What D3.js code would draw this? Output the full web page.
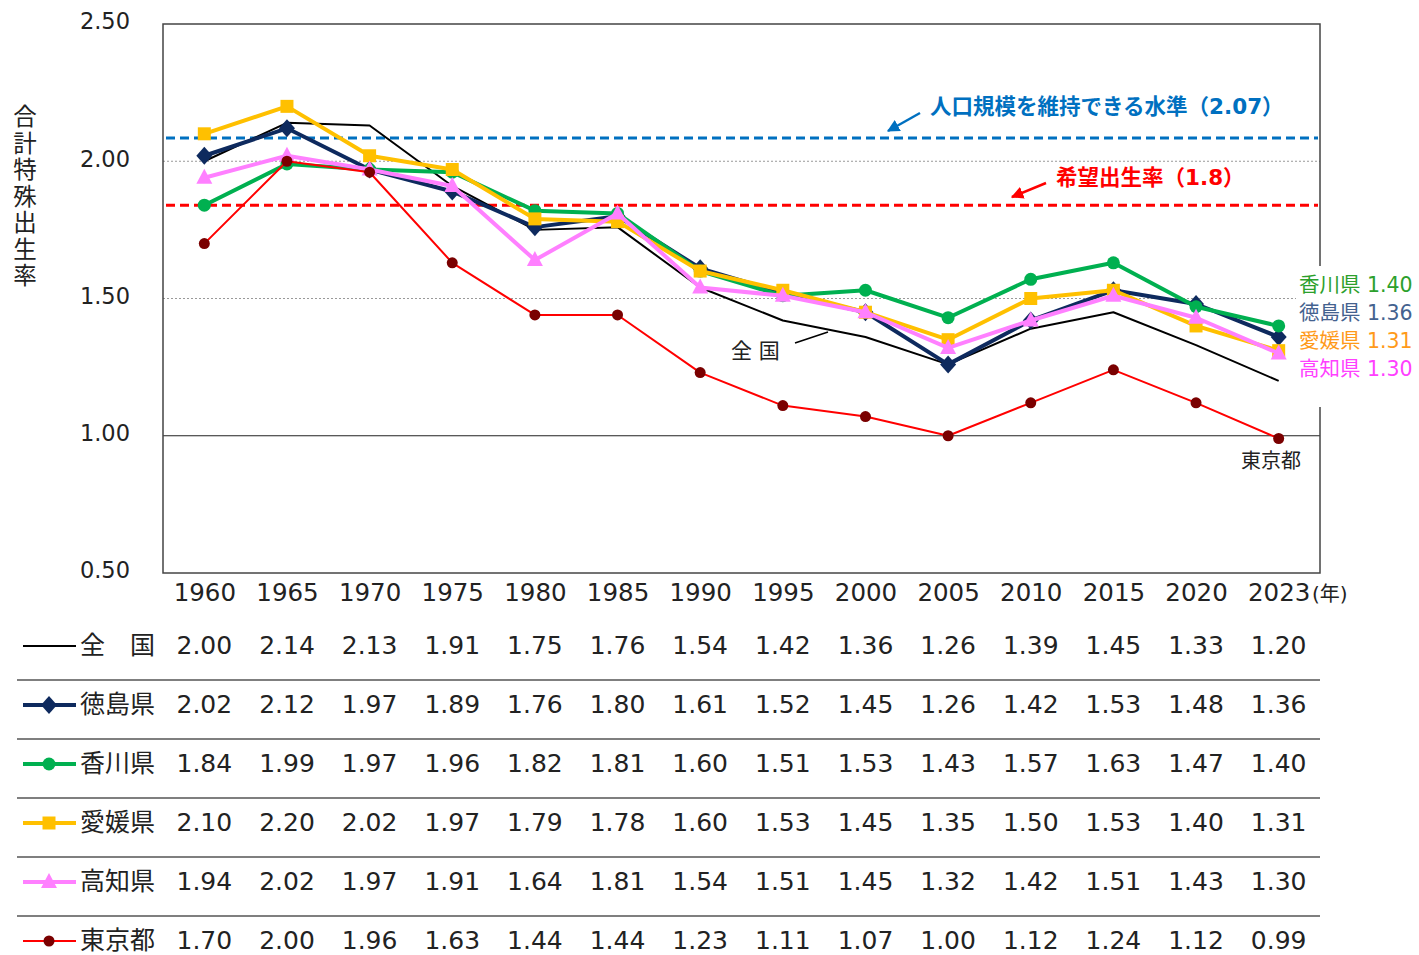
<!DOCTYPE html>
<html>
<head>
<meta charset="utf-8">
<title>合計特殊出生率の推移</title>
<script src="https://d3js.org/d3.v7.min.js"></script>
<style>
  body { margin: 0; background: #fff; }
  text { font-family: "DejaVu Sans", "Noto Sans CJK JP", sans-serif; fill: #222; }
</style>
</head>
<body>
<div id="chart"></div>
<script>
// categories
var years = ["1960","1965","1970","1975","1980","1985","1990","1995","2000","2005","2010","2015","2020","2023"];
var yTicks = [0.5, 1.0, 1.5, 2.0, 2.5];

// series values
var zenkoku   = [2.00,2.14,2.13,1.91,1.75,1.76,1.54,1.42,1.36,1.26,1.39,1.45,1.33,1.20];
var tokushima = [2.02,2.12,1.97,1.89,1.76,1.80,1.61,1.52,1.45,1.26,1.42,1.53,1.48,1.36];
var kagawa    = [1.84,1.99,1.97,1.96,1.82,1.81,1.60,1.51,1.53,1.43,1.57,1.63,1.47,1.40];
var ehime     = [2.10,2.20,2.02,1.97,1.79,1.78,1.60,1.53,1.45,1.35,1.50,1.53,1.40,1.31];
var kochi     = [1.94,2.02,1.97,1.91,1.64,1.81,1.54,1.51,1.45,1.32,1.42,1.51,1.43,1.30];
var tokyo     = [1.70,2.00,1.96,1.63,1.44,1.44,1.23,1.11,1.07,1.00,1.12,1.24,1.12,0.99];

var seriesNames = ["全　国","徳島県","香川県","愛媛県","高知県","東京都"];
var seriesValues = [zenkoku, tokushima, kagawa, ehime, kochi, tokyo];

// reference levels (label value, level as drawn in the picture)
var refLabels = ["人口規模を維持できる水準（2.07）", "希望出生率（1.8）"];
var refLevels = [2.085, 1.84];

var width = 1419, height = 955;
var margin = { left: 163, right: 1320, top: 24, bottom: 573 };

var styles = [
  { color: "#000000", w: 2,   marker: null,      mcolor: null },
  { color: "#0e2a5e", w: 4,   marker: "diamond", mcolor: "#0e2a5e" },
  { color: "#00b050", w: 4,   marker: "circle",  mcolor: "#00b050" },
  { color: "#ffc000", w: 4,   marker: "square",  mcolor: "#ffc000" },
  { color: "#ff80ff", w: 4,   marker: "triangle",mcolor: "#ff80ff" },
  { color: "#ff0000", w: 2,   marker: "circle",  mcolor: "#7a0000" }
];

var x = d3.scalePoint().domain(years).range([margin.left, margin.right]).padding(0.5);
var y = d3.scaleLinear().domain([0.5, 2.5]).range([margin.bottom, margin.top]);

var svg = d3.select("#chart").append("svg")
  .attr("width", width).attr("height", height);

// gridlines
svg.append("g").selectAll("line")
  .data([1.5, 2.0])
  .join("line")
  .attr("x1", margin.left).attr("x2", margin.right)
  .attr("y1", d => y(d)).attr("y2", d => y(d))
  .attr("stroke", "#999").attr("stroke-width", 1).attr("stroke-dasharray", "2,2");

svg.append("line")
  .attr("x1", margin.left).attr("x2", margin.right)
  .attr("y1", y(1.0)).attr("y2", y(1.0))
  .attr("stroke", "#222").attr("stroke-width", 1.2);

// frame
svg.append("rect")
  .attr("x", margin.left).attr("y", margin.top)
  .attr("width", margin.right - margin.left).attr("height", margin.bottom - margin.top)
  .attr("fill", "none").attr("stroke", "#444").attr("stroke-width", 1.5);

// y ticks
var yAxis = d3.axisLeft(y).tickValues(yTicks).tickFormat(d3.format(".2f")).tickSize(0).tickPadding(33);
var ya = svg.append("g").attr("transform", "translate(" + margin.left + ",0)").call(yAxis);
ya.select(".domain").remove();
ya.selectAll("text").attr("font-size", 22.5).attr("fill", "#222")
  .attr("font-family", "DejaVu Sans").attr("dy", "0.22em");

// y title (vertical)
var ytitle = "合計特殊出生率".split("");
svg.append("g").selectAll("text")
  .data(ytitle)
  .join("text")
  .attr("x", 25).attr("y", (d, i) => 125 + i * 26.5)
  .attr("text-anchor", "middle")
  .attr("font-size", 23.5)
  .attr("font-family", "Noto Sans CJK JP")
  .text(d => d);

// x ticks
var xAxis = d3.axisBottom(x).tickSize(0).tickPadding(11);
var xa = svg.append("g").attr("transform", "translate(0," + margin.bottom + ")").call(xAxis);
xa.select(".domain").remove();
xa.selectAll("text").attr("font-size", 24.5).attr("fill", "#222").attr("font-family", "DejaVu Sans");
svg.append("text").attr("x", 1312).attr("y", 601)
  .attr("font-size", 20).attr("font-family", "Noto Sans CJK JP").text("(年)");

// reference lines
var refColors = ["#0070c0", "#ff0000"];
refLevels.forEach(function (lv, i) {
  svg.append("line")
    .attr("x1", margin.left + 3).attr("x2", margin.right - 2)
    .attr("y1", y(lv)).attr("y2", y(lv))
    .attr("stroke", refColors[i]).attr("stroke-width", 3).attr("stroke-dasharray", "9,5");
});

// arrow markers
var defs = svg.append("defs");
refColors.forEach(function (c, i) {
  defs.append("marker").attr("id", "arr" + i)
    .attr("viewBox", "0 0 10 10").attr("refX", 9).attr("refY", 5)
    .attr("markerWidth", 5).attr("markerHeight", 5).attr("orient", "auto")
    .append("path").attr("d", "M0,0L10,5L0,10z").attr("fill", c);
});

var line = d3.line().x((d, i) => x(years[i])).y(d => y(d));

function markerPath(type) {
  if (type === "diamond") return "M0,-9L8,0L0,9L-8,0Z";
  if (type === "square") return "M-6.5,-6.5H6.5V6.5H-6.5Z";
  if (type === "triangle") return "M0,-9L8,6H-8Z";
  return null;
}

seriesValues.forEach(function (vals, si) {
  var st = styles[si];
  svg.append("path").datum(vals)
    .attr("fill", "none").attr("stroke", st.color).attr("stroke-width", st.w)
    .attr("stroke-linejoin", "round")
    .attr("d", line);
  if (!st.marker) return;
  var g = svg.append("g");
  if (st.marker === "circle") {
    g.selectAll("circle").data(vals).join("circle")
      .attr("cx", (d, i) => x(years[i])).attr("cy", d => y(d))
      .attr("r", si === 5 ? 5.5 : 6.5).attr("fill", st.mcolor);
  } else {
    g.selectAll("path").data(vals).join("path")
      .attr("transform", (d, i) => "translate(" + x(years[i]) + "," + y(d) + ")")
      .attr("d", markerPath(st.marker)).attr("fill", st.mcolor);
  }
});

// annotations
svg.append("line").attr("x1", 920).attr("y1", 113).attr("x2", 888).attr("y2", 131)
  .attr("stroke", "#0070c0").attr("stroke-width", 2.5).attr("marker-end", "url(#arr0)");
svg.append("text").attr("x", 930).attr("y", 114)
  .attr("font-size", 21.5).attr("font-weight", "bold").attr("font-family", "Noto Sans CJK JP")
  .style("fill", "#0070c0").text(refLabels[0]);

svg.append("line").attr("x1", 1046).attr("y1", 183).attr("x2", 1012).attr("y2", 197)
  .attr("stroke", "#ff0000").attr("stroke-width", 2.5).attr("marker-end", "url(#arr1)");
svg.append("text").attr("x", 1056).attr("y", 185)
  .attr("font-size", 21.5).attr("font-weight", "bold").attr("font-family", "Noto Sans CJK JP")
  .style("fill", "#ff0000").text(refLabels[1]);

svg.append("text").attr("x", 731).attr("y", 358)
  .attr("font-size", 21).attr("font-family", "Noto Sans CJK JP").text("全 国");
svg.append("line").attr("x1", 795).attr("y1", 343).attr("x2", 828).attr("y2", 332)
  .attr("stroke", "#000").attr("stroke-width", 1.5);

svg.append("text").attr("x", 1241).attr("y", 468)
  .attr("font-size", 20).attr("font-family", "Noto Sans CJK JP").text("東京都");

// right labels (last values)
svg.append("rect").attr("x", 1296).attr("y", 266).attr("width", 123).attr("height", 141).attr("fill", "#fff");
var rightIdx = [2, 1, 3, 4];
var rightColors = ["#2ca02c", "#44628f", "#ff9a1a", "#ff40ff"];
svg.append("g").selectAll("text")
  .data(rightIdx)
  .join("text")
  .attr("x", 1299).attr("y", (d, i) => 292 + i * 28)
  .attr("font-size", 20.5)
  .style("fill", (d, i) => rightColors[i])
  .text(d => seriesNames[d] + " " + d3.format(".2f")(seriesValues[d][years.length - 1]));

// data table
var rowY = d3.scaleLinear().domain([0, 1]).range([654, 713]);
var tbl = svg.append("g");
seriesValues.forEach(function (vals, si) {
  var ry = rowY(si);
  if (si > 0) {
    tbl.append("line").attr("x1", 17).attr("x2", margin.right)
      .attr("y1", ry - 33).attr("y2", ry - 33)
      .attr("stroke", "#555").attr("stroke-width", 1.5);
  }
  var st = styles[si];
  tbl.append("line").attr("x1", 23).attr("x2", 76).attr("y1", ry - 8).attr("y2", ry - 8)
    .attr("stroke", st.color).attr("stroke-width", si === 0 || si === 5 ? 2 : 4);
  if (st.marker === "circle") {
    tbl.append("circle").attr("cx", 49).attr("cy", ry - 8).attr("r", si === 5 ? 5.5 : 6.5).attr("fill", st.mcolor);
  } else if (st.marker) {
    tbl.append("path").attr("transform", "translate(49," + (ry - 8) + ")")
      .attr("d", markerPath(st.marker)).attr("fill", st.mcolor);
  }
  tbl.append("text").attr("x", 80).attr("y", ry)
    .attr("font-size", 25).attr("font-family", "Noto Sans CJK JP")
    .attr("xml:space", "preserve")
    .text(seriesNames[si]);
  tbl.append("g").selectAll("text").data(vals).join("text")
    .attr("x", (d, i) => x(years[i])).attr("y", ry)
    .attr("text-anchor", "middle").attr("font-size", 25)
    .text(d => d3.format(".2f")(d));
});
</script>
</body>
</html>
